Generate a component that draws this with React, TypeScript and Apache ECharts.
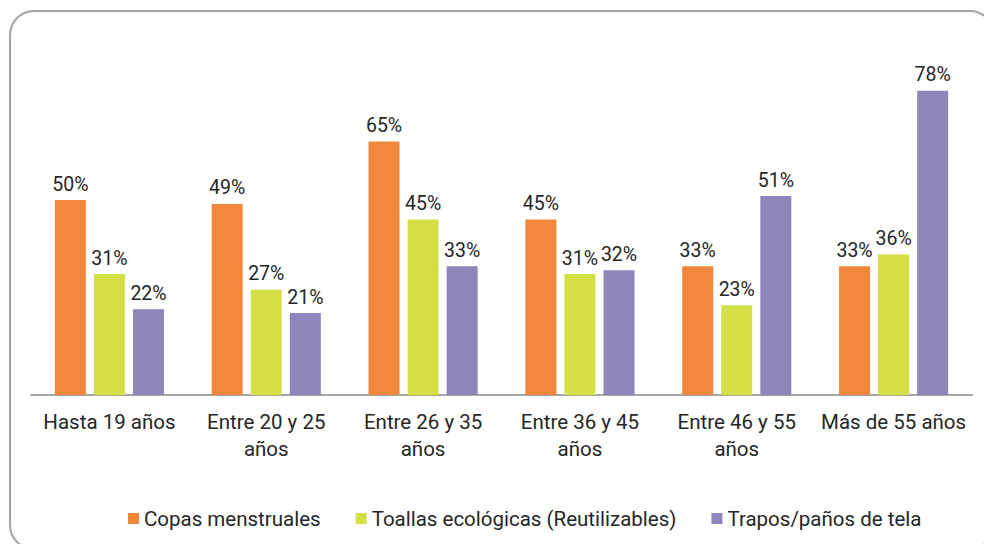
import React, { useEffect, useRef } from "react";
import * as echarts from "echarts";

const categories = [
  "Hasta 19 años",
  "Entre 20 y 25 años",
  "Entre 26 y 35 años",
  "Entre 36 y 45 años",
  "Entre 46 y 55 años",
  "Más de 55 años",
];
const seriesNames = [
  "Copas menstruales",
  "Toallas ecológicas (Reutilizables)",
  "Trapos/paños de tela",
];
const copas = [50, 49, 65, 45, 33, 33];
const toallas = [31, 27, 45, 31, 23, 36];
const trapos = [22, 21, 33, 32, 51, 78];
const colors = ["#F1873A", "#D4DE45", "#8D86BB"];

const FONT = "Roboto, 'Noto Sans', sans-serif";

export default function App() {
  const ref = useRef<HTMLDivElement>(null);
  useEffect(() => {
    if (!ref.current) return;
    const chart = echarts.init(ref.current, undefined, { renderer: "svg" });
    const data = [copas, toallas, trapos];
    chart.setOption({
      animation: false,
      backgroundColor: "#ffffff",
      textStyle: { fontFamily: FONT },
      graphic: [
        {
          type: "rect",
          shape: { x: 10, y: 11, width: 984, height: 538, r: 24 },
          style: { fill: "none", stroke: "#A3A3A3", lineWidth: 2 },
          z: -1,
        },
      ],
      grid: { left: 31, right: 12, top: 5, bottom: 149, containLabel: false },
      legend: {
        left: 123,
        top: 503,
        itemWidth: 11,
        itemHeight: 11,
        itemGap: 35,
        icon: "rect",
        textStyle: { fontSize: 20.5, color: "#262626", fontFamily: FONT },
        data: seriesNames,
      },
      xAxis: {
        type: "category",
        data: categories,
        axisLine: { lineStyle: { color: "#A6A6A6", width: 2 } },
        axisTick: { show: false },
        axisLabel: {
          fontSize: 20.5,
          color: "#262626",
          fontFamily: FONT,
          margin: 13,
          lineHeight: 27,
          interval: 0,
          formatter: (v: string) =>
            v.startsWith("Entre") ? v.replace(/ años$/, "\naños") : v,
        },
      },
      yAxis: {
        type: "value",
        min: 0,
        max: 100,
        show: false,
        splitLine: { show: false },
      },
      series: seriesNames.map((name, i) => ({
        name,
        type: "bar",
        data: data[i],
        barWidth: 31,
        barGap: "26%",
        itemStyle: { color: colors[i] },
        label: {
          show: true,
          position: "top",
          distance: 6,
          formatter: "{c}%",
          fontSize: 19.5,
          color: "#262626",
          fontFamily: FONT,
        },
      })),
    });
    return () => chart.dispose();
  }, []);
  return (
    <div
      ref={ref}
      style={{ position: "absolute", left: 0, top: 0, width: 984, height: 544 }}
    />
  );
}
